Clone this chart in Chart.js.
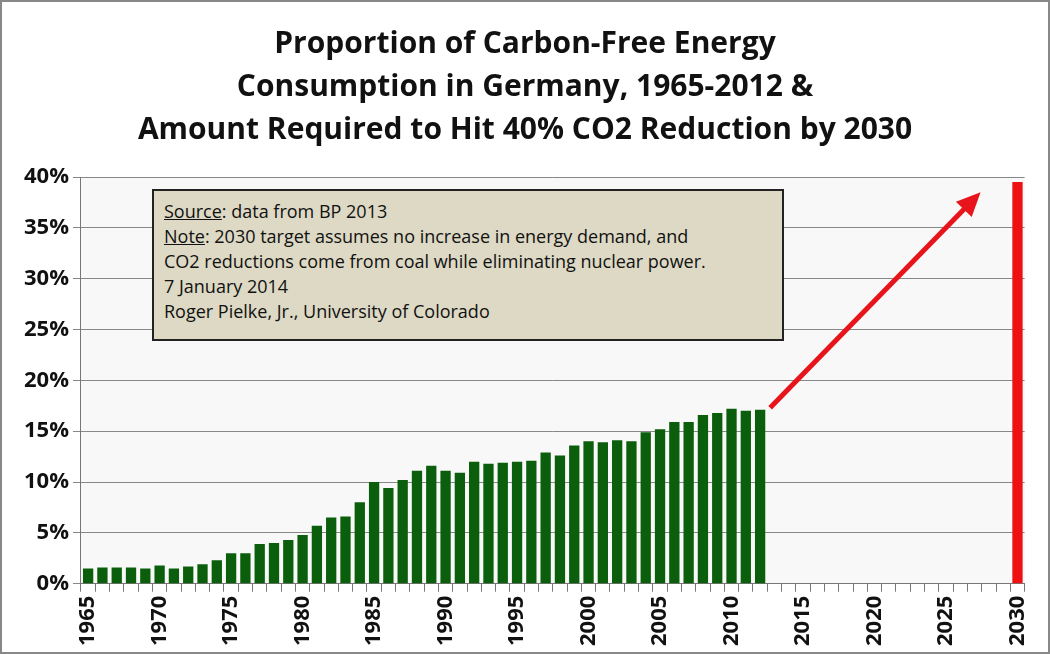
<!DOCTYPE html>
<html>
<head>
<meta charset="utf-8">
<script src="https://cdn.jsdelivr.net/npm/chart.js@4.4.0/dist/chart.umd.min.js"></script>
<style>
  body { margin: 0; background: #fff; }
  #wrap { position: relative; width: 1046px; height: 650px; border: 2px solid #888; background: #fff; }
  h1 { position: absolute; top: 18px; left: 0; width: 100%; margin: 0; text-align: center;
       font: bold 30px/43px "Open Sans", sans-serif; color: #111; }
  #box { position: absolute; left: 150px; top: 187px; width: 618px; height: 140px; padding: 8px 0 0 10px;
         background: #ddd9c4; border: 2px solid #222; font: 18px/25px "Open Sans", sans-serif; color: #111; box-sizing: content-box; }
  #box u { text-decoration: underline; }
  canvas { position: absolute; left: 0; top: 0; }
</style>
</head>
<body>
<div id="wrap">
  <canvas id="c" width="1046" height="650"></canvas>
  <h1>Proportion of Carbon-Free Energy<br>Consumption in Germany, 1965-2012 &amp;<br>Amount Required to Hit 40% CO2 Reduction by 2030</h1>
  <div id="box">
    <u>Source</u>: data from BP 2013<br>
    <u>Note</u>: 2030 target assumes no increase in energy demand, and<br>
    CO2 reductions come from coal while eliminating nuclear power.<br>
    7 January 2014<br>
    Roger Pielke, Jr., University of Colorado
  </div>
</div>
<script>
var years = [];
for (var y = 1965; y <= 2030; y++) years.push(String(y));

// carbon-free share, 1965-2012 (%)
var actualValues = [1.5, 1.6, 1.6, 1.6, 1.5, 1.8, 1.5, 1.7, 1.9, 2.3,
	3.0, 3.0, 3.9, 4.0, 4.3, 4.8, 5.7, 6.5, 6.6, 8.0,
	10.0, 9.4, 10.2, 11.1, 11.6, 11.1, 10.9, 12.0, 11.8, 11.9,
	12.0, 12.1, 12.9, 12.6, 13.6, 14.0, 13.9, 14.1, 14.0, 14.9,
	15.2, 15.9, 15.9, 16.6, 16.8, 17.2, 17.0, 17.1];
var targetYear = '2030';
var targetValue = 39.5;
var yTicks = [0, 5, 10, 15, 20, 25, 30, 35, 40];

var actualData = years.map(function(yr, i) { return i < actualValues.length ? actualValues[i] : null; });
var targetData = years.map(function(yr) { return yr === targetYear ? targetValue : null; });

// red arrow from last actual bar toward the target bar
var arrowPlugin = {
	id: 'arrow',
	afterDatasetsDraw: function(chart) {
		var xs = chart.scales.x, ys = chart.scales.y, ctx = chart.ctx;
		var x0 = xs.getPixelForValue(actualValues.length - 1) + 10;
		var y0 = ys.getPixelForValue(actualValues[actualValues.length - 1]) - 2;
		var x1 = xs.getPixelForValue(years.length - 4) + 6;
		var y1 = ys.getPixelForValue(38.5);
		var a = Math.atan2(y1 - y0, x1 - x0);
		ctx.save();
		ctx.strokeStyle = '#e8141b';
		ctx.fillStyle = '#e8141b';
		ctx.lineWidth = 5;
		ctx.beginPath();
		ctx.moveTo(x0, y0);
		ctx.lineTo(x1 - 14 * Math.cos(a), y1 - 14 * Math.sin(a));
		ctx.stroke();
		ctx.beginPath();
		ctx.moveTo(x1, y1);
		ctx.lineTo(x1 - 24 * Math.cos(a) + 11 * Math.sin(a), y1 - 24 * Math.sin(a) - 11 * Math.cos(a));
		ctx.lineTo(x1 - 24 * Math.cos(a) - 11 * Math.sin(a), y1 - 24 * Math.sin(a) + 11 * Math.cos(a));
		ctx.closePath();
		ctx.fill();
		ctx.restore();
	}
};

var plotBg = {
	id: 'plotBg',
	beforeDraw: function(chart) {
		var a = chart.chartArea;
		chart.ctx.save();
		chart.ctx.fillStyle = '#f8f8f8';
		chart.ctx.fillRect(a.left, a.top, a.right - a.left, a.bottom - a.top);
		chart.ctx.restore();
	}
};

new Chart(document.getElementById('c'), {
	type: 'bar',
	data: {
		labels: years,
		datasets: [
			{ data: actualData, backgroundColor: '#0b5e0b', categoryPercentage: 1, barPercentage: 0.72, grouped: false },
			{ data: targetData, backgroundColor: '#ee1111', categoryPercentage: 1, barPercentage: 0.72, grouped: false }
		]
	},
	options: {
		responsive: false,
		animation: false,
		layout: { padding: { top: 175, right: 16, left: 18, bottom: 2 } },
		plugins: { legend: { display: false }, tooltip: { enabled: false } },
		scales: {
			x: {
				grid: { display: true, drawOnChartArea: false, color: '#777', tickLength: 8, offset: true },
				border: { color: '#777' },
				ticks: {
					autoSkip: false, maxRotation: 90, minRotation: 90, color: '#111', padding: 4,
					font: { family: 'Open Sans', size: 22, weight: 'bold' },
					callback: function(v, i) { return (1965 + i) % 5 === 0 ? years[i] : ''; }
				}
			},
			y: {
				min: 0, max: 40,
				afterBuildTicks: function(s) { s.ticks = yTicks.map(function(v) { return { value: v }; }); },
				grid: { color: '#888', tickLength: 8 },
				border: { color: '#777' },
				ticks: {
					color: '#111', padding: 4, font: { family: 'Open Sans', size: 22, weight: 'bold' },
					callback: function(v) { return v + '%'; }
				}
			}
		}
	},
	plugins: [plotBg, arrowPlugin]
});
</script>
</body>
</html>
